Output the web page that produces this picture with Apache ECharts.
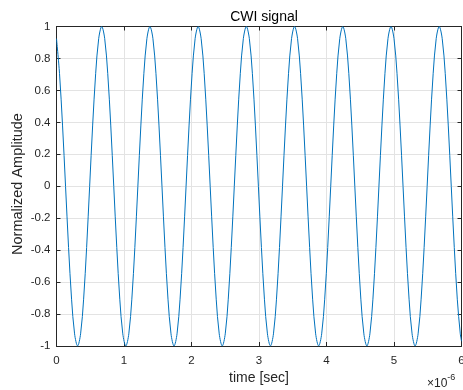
<!DOCTYPE html>
<html><head><meta charset="utf-8">
<script src="https://cdn.jsdelivr.net/npm/echarts@6/dist/echarts.min.js"></script>
<style>html,body{margin:0;padding:0;background:#fff}#c{width:463px;height:390px}</style>
</head><body><div id="c"></div>
<script>
// time in microseconds (axis shows x 10^-6 sec)
var timeUs = [
0,0.0446,0.0893,0.1339,0.1786,0.2232,0.2679,0.3125,0.3571,0.4018,0.4464,0.4911,0.5357,0.5804,0.625,0.6696,
0.7143,0.7589,0.8036,0.8482,0.8929,0.9375,0.9821,1.0268,1.0714,1.1161,1.1607,1.2054,1.25,1.2946,1.3393,1.3839,
1.4286,1.4732,1.5179,1.5625,1.6071,1.6518,1.6964,1.7411,1.7857,1.8304,1.875,1.9196,1.9643,2.0089,2.0536,2.0982,
2.1429,2.1875,2.2321,2.2768,2.3214,2.3661,2.4107,2.4554,2.5,2.5446,2.5893,2.6339,2.6786,2.7232,2.7679,2.8125,
2.8571,2.9018,2.9464,2.9911,3.0357,3.0804,3.125,3.1696,3.2143,3.2589,3.3036,3.3482,3.3929,3.4375,3.4821,3.5268,
3.5714,3.6161,3.6607,3.7054,3.75,3.7946,3.8393,3.8839,3.9286,3.9732,4.0179,4.0625,4.1071,4.1518,4.1964,4.2411,
4.2857,4.3304,4.375,4.4196,4.4643,4.5089,4.5536,4.5982,4.6429,4.6875,4.7321,4.7768,4.8214,4.8661,4.9107,4.9554,
5.0,5.0446,5.0893,5.1339,5.1786,5.2232,5.2679,5.3125,5.3571,5.4018,5.4464,5.4911,5.5357,5.5804,5.625,5.6696,
5.7143,5.7589,5.8036,5.8482,5.8929,5.9375,5.9821,6.0
];
var amplitude = [
0.924,0.707,0.383,0,-0.383,-0.707,-0.924,-1,-0.924,-0.707,-0.383,0,0.383,0.707,0.924,1,
0.924,0.707,0.383,0,-0.383,-0.707,-0.924,-1,-0.924,-0.707,-0.383,0,0.383,0.707,0.924,1,
0.924,0.707,0.383,0,-0.383,-0.707,-0.924,-1,-0.924,-0.707,-0.383,0,0.383,0.707,0.924,1,
0.924,0.707,0.383,0,-0.383,-0.707,-0.924,-1,-0.924,-0.707,-0.383,0,0.383,0.707,0.924,1,
0.924,0.707,0.383,0,-0.383,-0.707,-0.924,-1,-0.924,-0.707,-0.383,0,0.383,0.707,0.924,1,
0.924,0.707,0.383,0,-0.383,-0.707,-0.924,-1,-0.924,-0.707,-0.383,0,0.383,0.707,0.924,1,
0.924,0.707,0.383,0,-0.383,-0.707,-0.924,-1,-0.924,-0.707,-0.383,0,0.383,0.707,0.924,1,
0.924,0.707,0.383,0,-0.383,-0.707,-0.924,-1,-0.924,-0.707,-0.383,0,0.383,0.707,0.924,1,
0.924,0.707,0.383,0,-0.383,-0.707,-0.924,-0.97
];
var xTicks = [0,1,2,3,4,5,6];
var yTicks = [-1,-0.8,-0.6,-0.4,-0.2,0,0.2,0.4,0.6,0.8,1];
var titleText = 'CWI signal';
var xName = 'time [sec]';
var yName = 'Normalized Amplitude';

var pts = timeUs.map(function(t,i){return [t, amplitude[i]];});
var FONT = 'Liberation Sans, Arial, sans-serif';
var AX = '#262626';
var chart = echarts.init(document.getElementById('c'), null, {renderer:'canvas'});
function xAx(pos, showLabel){
  return {type:'value', position:pos, min:xTicks[0], max:xTicks[xTicks.length-1], interval:1,
    axisLine:{show:true, onZero:false, lineStyle:{color:AX, width:1}},
    axisTick:{show:true, inside:true, length:4, lineStyle:{color:AX}},
    axisLabel:{show:showLabel, color:AX, fontFamily:FONT, fontSize:11.5, margin:9},
    splitLine:{show:showLabel, lineStyle:{color:'#e3e3e3', width:1}}};
}
function yAx(pos, showLabel){
  return {type:'value', position:pos, min:yTicks[0], max:yTicks[yTicks.length-1], interval:0.2,
    axisLine:{show:true, onZero:false, lineStyle:{color:AX, width:1}},
    axisTick:{show:true, inside:true, length:4, lineStyle:{color:AX}},
    axisLabel:{show:showLabel, color:AX, fontFamily:FONT, fontSize:11.5, margin:6,
      formatter:function(v){return String(Math.round(v*10)/10);}},
    splitLine:{show:showLabel, lineStyle:{color:'#e3e3e3', width:1}}};
}
chart.setOption({
  animation:false,
  backgroundColor:'#ffffff',
  title:{text:titleText, left:259, top:5, textAlign:'center',
    textStyle:{fontFamily:FONT, fontSize:14, fontWeight:'normal', color:'#000'}},
  grid:{left:56.5, right:1.5, top:26.5, bottom:44, containLabel:false, outerBoundsMode:'none'},
  xAxis:[xAx('bottom', true), xAx('top', false)],
  yAxis:[yAx('left', true), yAx('right', false)],
  graphic:[
    {type:'text', x:259, y:378, style:{text:xName, textAlign:'center', textVerticalAlign:'middle', fontFamily:FONT, fontSize:14, fill:AX}},
    {type:'text', x:18, y:184, rotation:Math.PI/2, style:{text:yName, textAlign:'center', textVerticalAlign:'middle', fontFamily:FONT, fontSize:14.5, fill:AX}},
    {type:'text', x:427, y:372, style:{text:'{a|\u00d710}{b|-6}', fill:AX,
      rich:{a:{fontFamily:FONT, fontSize:12, fill:AX, padding:[6,0,0,0]}, b:{fontFamily:FONT, fontSize:9, fill:AX, padding:[0,0,6,0]}}}}
  ],
  series:[{type:'line', xAxisIndex:0, yAxisIndex:0, data:pts, smooth:0.33, showSymbol:false,
    lineStyle:{color:'#0072BD', width:1}, clip:true}]
});
</script></body></html>
